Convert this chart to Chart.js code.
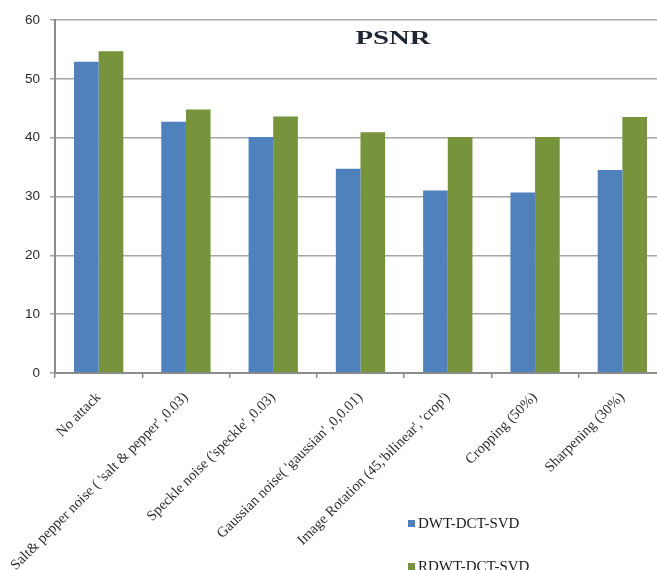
<!DOCTYPE html>
<html>
<head>
<meta charset="utf-8">
<script src="https://cdn.jsdelivr.net/npm/chart.js@4/dist/chart.umd.min.js"></script>
<style>
  html, body { margin: 0; padding: 0; background: #fff; overflow: hidden; }
  #wrap { width: 670px; height: 570px; }
</style>
</head>
<body>
<div id="wrap"><canvas id="c" width="670" height="570"></canvas></div>
<script>
const categories = [
  "No attack",
  "Salt& pepper noise ( 'salt & pepper' ,0.03)",
  "Speckle noise ('speckle' ,0.03)",
  "Gaussian noise( 'gaussian' ,0,0.01)",
  "Image Rotation (45,'bilinear', 'crop')",
  "Cropping (50%)",
  "Sharpening (30%)"
];
const seriesNames = ["DWT-DCT-SVD", "RDWT-DCT-SVD"];
const dwtDctSvd = [52.9, 42.7, 40.1, 34.7, 31.0, 30.7, 34.5];
const rdwtDctSvd = [54.7, 44.8, 43.6, 40.9, 40.1, 40.1, 43.5];
const yTicks = [0, 10, 20, 30, 40, 50, 60];
const chartTitle = "PSNR";

const colors = ["#4f81bd", "#77933c"];

const titlePlugin = {
  id: 'psnrTitle',
  afterDraw(chart) {
    const ctx = chart.ctx, a = chart.chartArea;
    ctx.save();
    ctx.font = "bold 18px 'Liberation Serif', 'DejaVu Serif', serif";
    ctx.fillStyle = "#1e2633";
    ctx.textBaseline = "middle";
    ctx.textAlign = "center";
    ctx.translate(a.left + 338, a.top + 19);
    ctx.scale(1.6, 1);
    ctx.fillText(chartTitle, 0, 0);
    ctx.restore();
  }
};

const legendPlugin = {
  id: 'customLegend',
  afterDraw(chart) {
    const ctx = chart.ctx, a = chart.chartArea;
    ctx.save();
    ctx.font = "15px 'Liberation Serif', 'DejaVu Serif', serif";
    ctx.textBaseline = "middle";
    ctx.textAlign = "left";
    chart.data.datasets.forEach((ds, i) => {
      const x = a.left + 353;
      const y = a.bottom + 150 + i * 43;
      ctx.fillStyle = ds.backgroundColor;
      ctx.fillRect(x, y - 3, 7, 7);
      ctx.fillStyle = "#1a1a1a";
      ctx.fillText(ds.label, x + 10, y + 1);
    });
    ctx.restore();
  }
};

new Chart(document.getElementById('c'), {
  type: 'bar',
  data: {
    labels: categories,
    datasets: [
      { label: seriesNames[0], data: dwtDctSvd, backgroundColor: colors[0] },
      { label: seriesNames[1], data: rdwtDctSvd, backgroundColor: colors[1] }
    ]
  },
  options: {
    responsive: false,
    animation: false,
    devicePixelRatio: 1,
    layout: { padding: { top: 20, right: 4, left: 0, bottom: 0 } },
    plugins: {
      legend: { display: false },
      tooltip: { enabled: false },
      title: { display: false }
    },
    datasets: {
      bar: { barPercentage: 1.0, categoryPercentage: 0.565 }
    },
    scales: {
      x: {
        offset: true,
        grid: {
          offset: true,
          drawOnChartArea: false,
          drawTicks: true,
          tickLength: 5,
          color: "#8c8c8c",
          lineWidth: 1.5
        },
        border: { color: "#8c8c8c", width: 2 },
        ticks: {
          autoSkip: false,
          minRotation: 45,
          maxRotation: 45,
          padding: 11,
          color: "#2a2a2a",
          font: { family: "'Liberation Serif', 'DejaVu Serif', serif", size: 14.5 }
        },
        afterFit(scale) { scale.height = 197; }
      },
      y: {
        min: 0,
        max: 60,
        afterBuildTicks(scale) { scale.ticks = yTicks.map(v => ({ value: v })); },
        grid: {
          color: "#a6a6a6",
          lineWidth: 1.5,
          drawTicks: true,
          tickLength: 5
        },
        border: { color: "#8c8c8c", width: 2 },
        ticks: {
          padding: 10,
          color: "#2a2a2a",
          font: { family: "'Liberation Sans', Arial, sans-serif", size: 13.5 }
        },
        afterFit(scale) { scale.width = 55; }
      }
    }
  },
  plugins: [titlePlugin, legendPlugin]
});
</script>
</body>
</html>
